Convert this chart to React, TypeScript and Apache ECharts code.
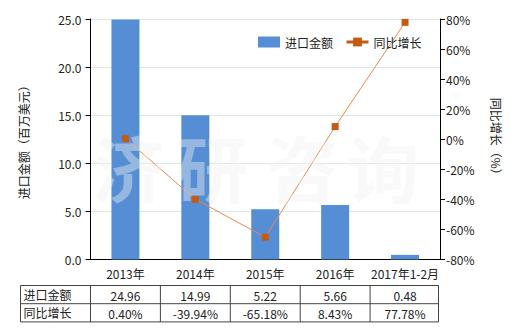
import React, { useEffect, useRef } from "react";
import * as echarts from "echarts";

const categories = ["2013年", "2014年", "2015年", "2016年", "2017年1-2月"];
const importValues = [24.96, 14.99, 5.22, 5.66, 0.48];
const growthValues = [0.4, -39.94, -65.18, 8.43, 77.78];
const importLabels = ["24.96", "14.99", "5.22", "5.66", "0.48"];
const growthLabels = ["0.40%", "-39.94%", "-65.18%", "8.43%", "77.78%"];
const seriesNames = ["进口金额", "同比增长"];
const leftAxisName = "进口金额（百万美元）";
const rightAxisName = "同比增长（%）";
const watermarkChars = ["济", "研", "咨", "询"];

const FONT = "'Noto Sans CJK SC', 'Microsoft YaHei', sans-serif";
const TEXT = "#222";

export default function App() {
  const ref = useRef<HTMLDivElement>(null);
  useEffect(() => {
    if (!ref.current) return;
    const chart = echarts.init(ref.current, undefined, { renderer: "svg" });
    const gridLeft = 90.5;
    const gridRight = 440;
    const gridTop = 19;
    const gridBottom = 259.5;
    const colW = (gridRight - gridLeft) / categories.length;

    const tableTop = 285.5;
    const rowH = 18.2;
    const tableLeft = 20.5;
    const lineColor = "#444";
    const graphics: any[] = [];
    // table borders
    for (let r = 0; r <= 2; r++) {
      graphics.push({
        type: "line",
        shape: { x1: tableLeft, y1: tableTop + r * rowH, x2: gridRight - 1.5, y2: tableTop + r * rowH },
        style: { stroke: lineColor, lineWidth: 1 },
      });
    }
    const colXs = [tableLeft, ...categories.map((_, i) => gridLeft + i * colW), gridRight - 1.5];
    colXs.forEach((x, i) => {
      if (i === colXs.length - 2) return;
      const xx = i === colXs.length - 1 ? x : x;
      graphics.push({
        type: "line",
        shape: { x1: xx, y1: tableTop, x2: xx, y2: tableTop + 2 * rowH },
        style: { stroke: lineColor, lineWidth: 1 },
      });
    });
    // fix: vertical line positions for inner columns (skip duplicate handled above)
    graphics.push({
      type: "line",
      shape: { x1: gridLeft + 4 * colW, y1: tableTop, x2: gridLeft + 4 * colW, y2: tableTop + 2 * rowH },
      style: { stroke: lineColor, lineWidth: 1 },
    });
    const rowsText = [importLabels, growthLabels];
    rowsText.forEach((row, r) => {
      graphics.push({
        type: "text",
        x: tableLeft + 3,
        y: tableTop + r * rowH + rowH / 2,
        style: { text: seriesNames[r], fontSize: 12, fontFamily: FONT, fill: TEXT, verticalAlign: "middle", align: "left" },
      });
      row.forEach((t, i) => {
        graphics.push({
          type: "text",
          x: gridLeft + (i + 0.5) * colW,
          y: tableTop + r * rowH + rowH / 2 + 1,
          style: { text: t, fontSize: 12, fontFamily: FONT, fill: TEXT, verticalAlign: "middle", align: "center" },
        });
      });
    });
    // watermark
    const wmX = [129, 212, 302, 383];
    watermarkChars.forEach((c, i) => {
      graphics.push({
        type: "text",
        x: wmX[i],
        y: 165,
        z: 100,
        silent: true,
        style: {
          text: c,
          fontSize: 72,
          fontWeight: "bold",
          fontFamily: FONT,
          fill: "rgba(240,240,240,0.42)",
          align: "center",
          verticalAlign: "middle",
        },
      });
    });

    chart.setOption({
      animation: false,
      textStyle: { fontFamily: FONT },
      grid: {
        left: gridLeft,
        right: 520 - gridRight,
        top: gridTop,
        bottom: 330 - gridBottom,
        containLabel: false,
        outerBoundsMode: "none",
      },
      legend: {
        left: 253,
        top: 31,
        itemWidth: 22,
        itemHeight: 11,
        itemGap: 12,
        textStyle: { fontSize: 12, color: TEXT, fontFamily: FONT },
        data: [
          { name: seriesNames[0], icon: "rect" },
          { name: seriesNames[1], lineStyle: { width: 3, color: "#c55a11" } },
        ],
      },
      xAxis: {
        type: "category",
        data: categories,
        axisLine: { lineStyle: { color: "#000", width: 1 } },
        axisTick: { show: false },
        axisLabel: { color: TEXT, fontSize: 12, margin: 8, interval: 0 },
      },
      yAxis: [
        {
          type: "value",
          min: 0,
          max: 25,
          interval: 5,
          name: leftAxisName,
          nameLocation: "middle",
          nameGap: 61,
          nameTextStyle: { color: TEXT, fontSize: 12 },
          axisLine: { show: true, lineStyle: { color: "#000" } },
          axisTick: { show: true, length: 5, lineStyle: { color: "#000" } },
          axisLabel: { color: TEXT, fontSize: 12, margin: 9, formatter: (v: number) => v.toFixed(1) },
          splitLine: { lineStyle: { color: "#dce8e5" } },
        },
        {
          type: "value",
          min: -80,
          max: 80,
          interval: 20,
          position: "right",
          name: rightAxisName,
          nameLocation: "middle",
          nameRotate: -90,
          nameGap: 50,
          nameTextStyle: { color: TEXT, fontSize: 12 },
          axisLine: { show: true, lineStyle: { color: "#000" } },
          axisTick: { show: true, length: 5, lineStyle: { color: "#000" } },
          axisLabel: { color: TEXT, fontSize: 12, margin: 6, formatter: (v: number) => `${v}%` },
          splitLine: { show: false },
        },
      ],
      series: [
        {
          name: seriesNames[0],
          type: "bar",
          data: importValues,
          barWidth: 28,
          itemStyle: { color: "#558ed5" },
        },
        {
          name: seriesNames[1],
          type: "line",
          yAxisIndex: 1,
          data: growthValues,
          symbol: "rect",
          symbolSize: 7,
          lineStyle: { color: "#e8884a", width: 1 },
          itemStyle: { color: "#c55a11" },
        },
      ],
      graphic: graphics,
    });
    return () => chart.dispose();
  }, []);
  return <div ref={ref} style={{ position: "absolute", left: 0, top: 0, width: 520, height: 330 }} />;
}
